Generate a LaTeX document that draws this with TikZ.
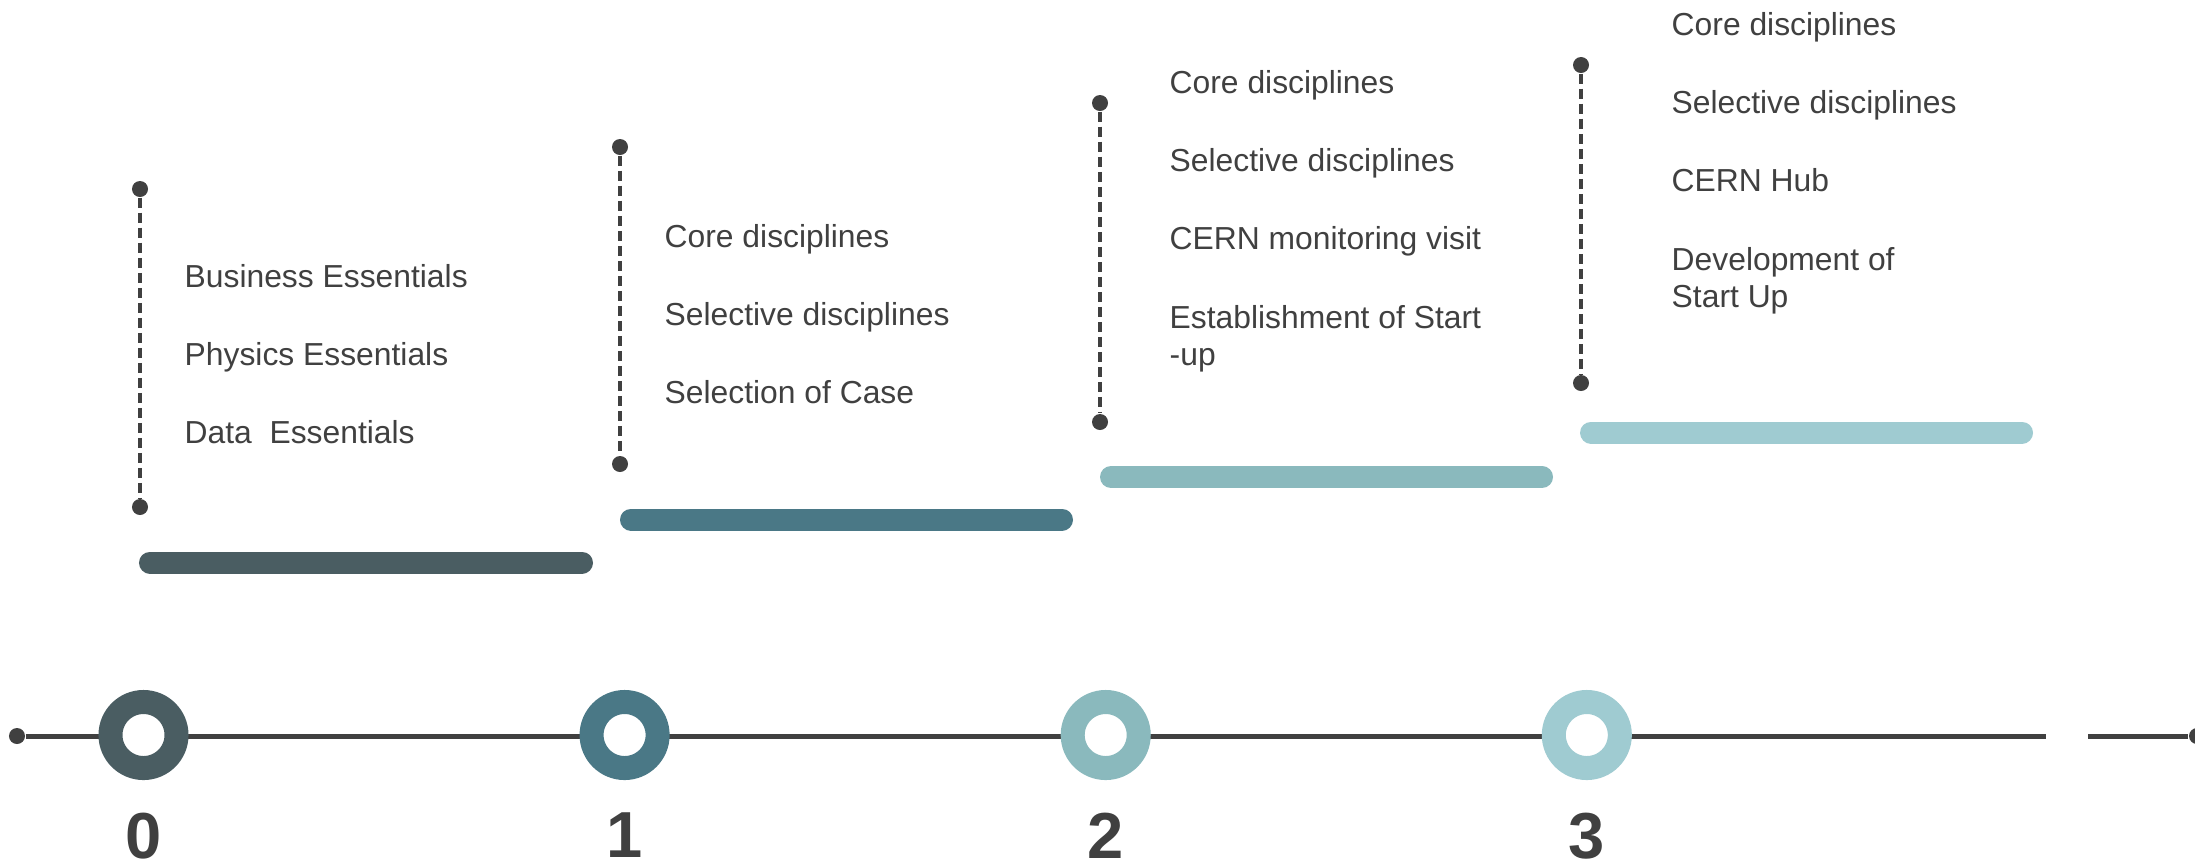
\documentclass[tikz,border=0pt]{standalone}
\usepackage{fontspec}
\setmainfont{Liberation Sans}
\usetikzlibrary{positioning}

\definecolor{ink}{HTML}{404040}
\definecolor{stage0}{HTML}{4A5D62}
\definecolor{stage1}{HTML}{4A7886}
\definecolor{stage2}{HTML}{8AB9BD}
\definecolor{stage3}{HTML}{9FCBD1}

\newcommand{\itemfont}{\fontsize{9.05pt}{10.6pt}\selectfont}
\newcommand{\numfont}{\fontsize{18.5pt}{22pt}\selectfont\bfseries}

\begin{document}
\begin{tikzpicture}[x=0.01cm, y=-0.01cm,
        dot/.style={circle, fill=ink, inner sep=0pt, minimum size=0.16cm},
        ring/.style={circle, draw=#1, fill=white, line width=0.24cm,
            minimum size=0.66cm, inner sep=0pt},
        bar/.style={draw=#1, line width=0.22cm, line cap=round},
        stem/.style={draw=ink, line width=0.04cm, dash pattern=on 0.1cm off 0.05cm},
        axis/.style={draw=ink, line width=0.05cm},
        item/.style={font=\itemfont, text=ink, align=left, inner sep=0pt,
            text height=0.24cm, text depth=0.08cm},
        twoline/.style={item, text height=0.6125cm},
        num/.style={font=\numfont, text=ink, inner sep=0pt}]

  \useasboundingbox (0,0) rectangle (2195,866);

  % time axis
  \node[dot] (start) at (17,736) {};
  \node[dot] (end) at (2197,736) {};
  \coordinate (gapl) at (2046,736);
  \coordinate (gapr) at (2088,736);
  \draw[axis] (start) -- (gapl) (gapr) -- (end);

  % years
  \node[ring=stage0] (r0) at (143.5,735) {};
  \node[ring=stage1] (r1) at (624.6,735) {};
  \node[ring=stage2] (r2) at (1105.7,735) {};
  \node[ring=stage3] (r3) at (1586.8,735) {};
  \node[num] (n0) [below=0.32cm of r0] {0};
  \node[num] (n1) [below=0.32cm of r1] {1};
  \node[num] (n2) [below=0.32cm of r2] {2};
  \node[num] (n3) [below=0.32cm of r3] {3};

  % steps
  \draw[bar=stage0] (150,562.5) -- (582,562.5);
  \draw[bar=stage1] (631,519.5) -- (1062,519.5);
  \draw[bar=stage2] (1111,477) -- (1542,477);
  \draw[bar=stage3] (1591,432.5) -- (2022,432.5);

  \node[dot] (t0) at (140,189) {};
  \node[dot] (b0) at (140,507) {};
  \node[dot] (t1) at (620,147) {};
  \node[dot] (b1) at (620,464) {};
  \node[dot] (t2) at (1100,103) {};
  \node[dot] (b2) at (1100,422) {};
  \node[dot] (t3) at (1581,65) {};
  \node[dot] (b3) at (1581,383) {};
  \draw[stem] (t0) -- (b0);
  \draw[stem] (t1) -- (b1);
  \draw[stem] (t2) -- (b2);
  \draw[stem] (t3) -- (b3);

  % year 0
  \node[item, anchor=base west] (a1) at (184,287) {Business Essentials};
  \node[item] (a2) [below right=0.45cm and 0cm of a1.south west] {Physics Essentials};
  \node[item] (a3) [below right=0.45cm and 0cm of a2.south west] {Data\ \ Essentials};

  % year 1
  \node[item, anchor=base west] (b1) at (664,247) {Core disciplines};
  \node[item] (b2) [below right=0.45cm and 0cm of b1.south west] {Selective disciplines};
  \node[item] (b3) [below right=0.45cm and 0cm of b2.south west] {Selection of Case};

  % year 2
  \node[item, anchor=base west] (c1) at (1169,93) {Core disciplines};
  \node[item] (c2) [below right=0.45cm and 0cm of c1.south west] {Selective disciplines};
  \node[item] (c3) [below right=0.45cm and 0cm of c2.south west] {CERN monitoring visit};
  \node[twoline] (c4) [below right=0.45cm and 0cm of c3.south west] {Establishment of Start\\-up};

  % year 3
  \node[item, anchor=base west] (d1) at (1671,35) {Core disciplines};
  \node[item] (d2) [below right=0.45cm and 0cm of d1.south west] {Selective disciplines};
  \node[item] (d3) [below right=0.45cm and 0cm of d2.south west] {CERN Hub};
  \node[twoline] (d4) [below right=0.45cm and 0cm of d3.south west] {Development of\\Start Up};

\end{tikzpicture}
\end{document}
